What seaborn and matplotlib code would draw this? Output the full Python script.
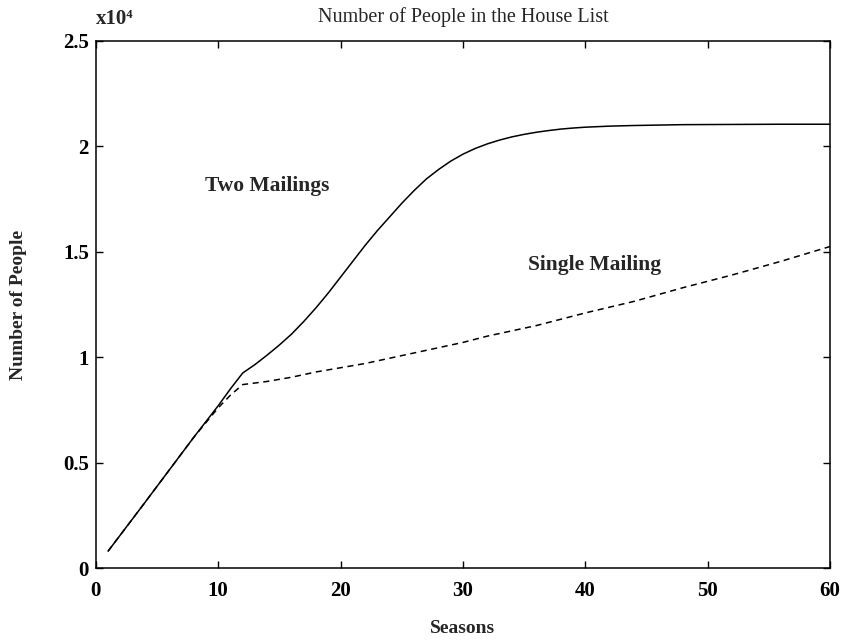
import pandas as pd
import numpy as np
import matplotlib.pyplot as plt
import seaborn as sns
from matplotlib.ticker import FuncFormatter

# values (people, y axis is x10^4)
seasons_two = [1, 4, 8, 10, 11, 12, 13, 14, 15, 16, 17, 18, 19, 20, 21, 22, 23,
               24, 25, 26, 27, 28, 29, 30, 31, 32, 33, 34, 35, 36, 37, 38, 39,
               40, 42, 44, 46, 48, 52, 56, 60]
two_mailings = [800, 3100, 6200, 7700, 8500, 9250, 9650, 10100, 10580, 11100,
                11700, 12350, 13050, 13800, 14550, 15300, 16000, 16650, 17300,
                17900, 18450, 18900, 19300, 19630, 19900, 20120, 20300, 20450,
                20570, 20670, 20750, 20820, 20870, 20910, 20960, 20990, 21010,
                21030, 21040, 21050, 21050]

seasons_single = [1, 4, 8, 10, 11, 12, 14, 16, 18, 20, 22, 24, 26, 28, 30, 32,
                  34, 36, 38, 40, 44, 48, 52, 56, 60]
single_mailing = [800, 3100, 6200, 7600, 8200, 8700, 8850, 9050, 9300, 9500,
                  9700, 9950, 10200, 10450, 10700, 11000, 11250, 11500, 11800,
                  12100, 12650, 13300, 13900, 14550, 15250]

df = pd.concat([
    pd.DataFrame({'season': seasons_two, 'people': two_mailings, 'series': 'Two Mailings'}),
    pd.DataFrame({'season': seasons_single, 'people': single_mailing, 'series': 'Single Mailing'}),
])

sns.set_style('ticks')
plt.rcParams['font.family'] = ['Liberation Serif', 'DejaVu Serif']
plt.rcParams['font.weight'] = 'bold'

fig = plt.figure(figsize=(8.41, 6.4), dpi=100)
ax = fig.add_axes([0.114, 0.1125, 0.873, 0.8235])

sns.lineplot(data=df, x='season', y='people', style='series',
             dashes={'Two Mailings': '', 'Single Mailing': (4, 3)},
             color='black', linewidth=1.1, legend=False, ax=ax)

ax.set_xlim(0, 60)
ax.set_ylim(0, 25000)
ax.set_xticks([0, 10, 20, 30, 40, 50, 60])
ax.set_yticks([0, 5000, 10000, 15000, 20000, 25000])
ax.yaxis.set_major_formatter(FuncFormatter(lambda v, p: f'{v / 1e4:g}'))
ax.tick_params(direction='in', length=5, width=1, top=True, right=True,
               labelsize=15, colors='black')
ax.tick_params(axis='x', pad=9)
ax.tick_params(axis='y', pad=5)
for lab in ax.get_xticklabels() + ax.get_yticklabels():
    lab.set_fontweight('bold')
for s in ax.spines.values():
    s.set_linewidth(1.1)
    s.set_color('black')

ax.set_xlabel('Seasons', fontsize=14, fontweight='bold', labelpad=14)
ax.set_ylabel('Number of People', fontsize=14, fontweight='bold', labelpad=26)
ax.set_title('Number of People in the House List', fontsize=14.5, pad=14)
ax.text(0.0, 1.022, 'x10\u2074', transform=ax.transAxes, fontsize=15,
        fontweight='bold', ha='left', va='bottom')

ax.text(8.9, 18100, 'Two Mailings', fontsize=15.5, fontweight='bold', va='center')
ax.text(35.3, 14350, 'Single Mailing', fontsize=15.5, fontweight='bold', va='center')

fig.savefig('out.png', dpi=100)
